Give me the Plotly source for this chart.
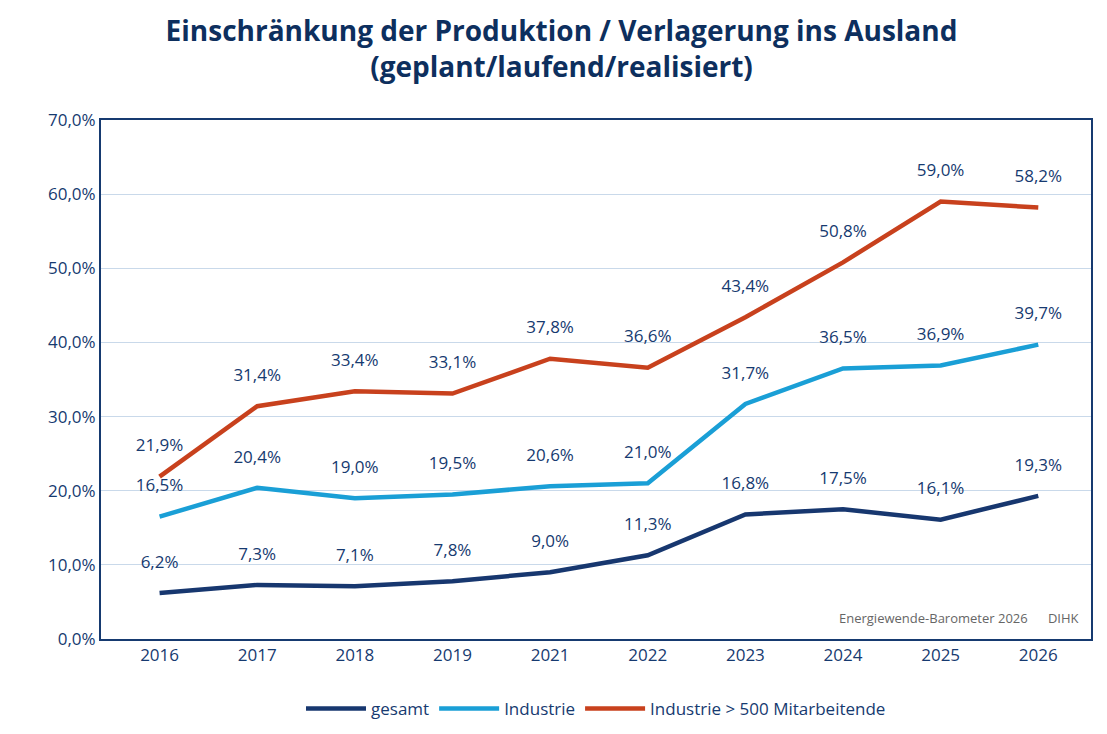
import plotly.graph_objects as go

jahre = ["2016", "2017", "2018", "2019", "2021", "2022", "2023", "2024", "2025", "2026"]
gesamt = [6.2, 7.3, 7.1, 7.8, 9.0, 11.3, 16.8, 17.5, 16.1, 19.3]
industrie = [16.5, 20.4, 19.0, 19.5, 20.6, 21.0, 31.7, 36.5, 36.9, 39.7]
industrie_500 = [21.9, 31.4, 33.4, 33.1, 37.8, 36.6, 43.4, 50.8, 59.0, 58.2]

navy = "#163a70"
fnt = "Open Sans, Lato"
fmt = lambda v: f"{v:.1f}%".replace(".", ",")

fig = go.Figure()
for name, vals, col in [("gesamt", gesamt, "#17376f"),
                        ("Industrie", industrie, "#1a9fd6"),
                        ("Industrie > 500 Mitarbeitende", industrie_500, "#c8411d")]:
    fig.add_trace(go.Scatter(
        x=jahre, y=vals, name=name, mode="lines+markers+text",
        line=dict(color=col, width=4.5),
        marker=dict(size=32, color="rgba(0,0,0,0)", line=dict(width=0)),
        text=[fmt(v) for v in vals], textposition="top center",
        textfont=dict(size=17, color=navy, family=fnt),
    ))

fig.update_layout(
    width=1107, height=734, plot_bgcolor="white", paper_bgcolor="white",
    margin=dict(l=93, r=24, t=112, b=103),
    font=dict(family=fnt, color=navy, size=17),
    title=dict(text="<b>Einschränkung der Produktion / Verlagerung ins Ausland<br>(geplant/laufend/realisiert)</b>",
               x=0.5, xanchor="center", y=0.955, yanchor="top",
               font=dict(size=28, color="#0d2f5e")),
    legend=dict(orientation="h", x=0.5, xanchor="center", y=-0.1, yanchor="top",
                font=dict(size=17, color=navy), itemwidth=60),
    xaxis=dict(type="category", range=[-0.6, 9.54], showline=True, mirror=True,
               linecolor=navy, linewidth=2, tickfont=dict(size=17, color=navy), ticks=""),
    yaxis=dict(range=[0, 70], showline=True, mirror=True, linecolor=navy,
               linewidth=2, gridcolor="#c9d9ea", tickvals=list(range(0, 71, 10)),
               ticktext=[f"{v},0%" for v in range(0, 71, 10)],
               tickfont=dict(size=17, color=navy)),
    annotations=[dict(text="Energiewende-Barometer 2026      DIHK", xref="paper", yref="paper",
                      x=0.99, y=0.02, xanchor="right", yanchor="bottom", showarrow=False,
                      font=dict(size=13, color="#666666"))],
)
fig.write_html("out.html")
